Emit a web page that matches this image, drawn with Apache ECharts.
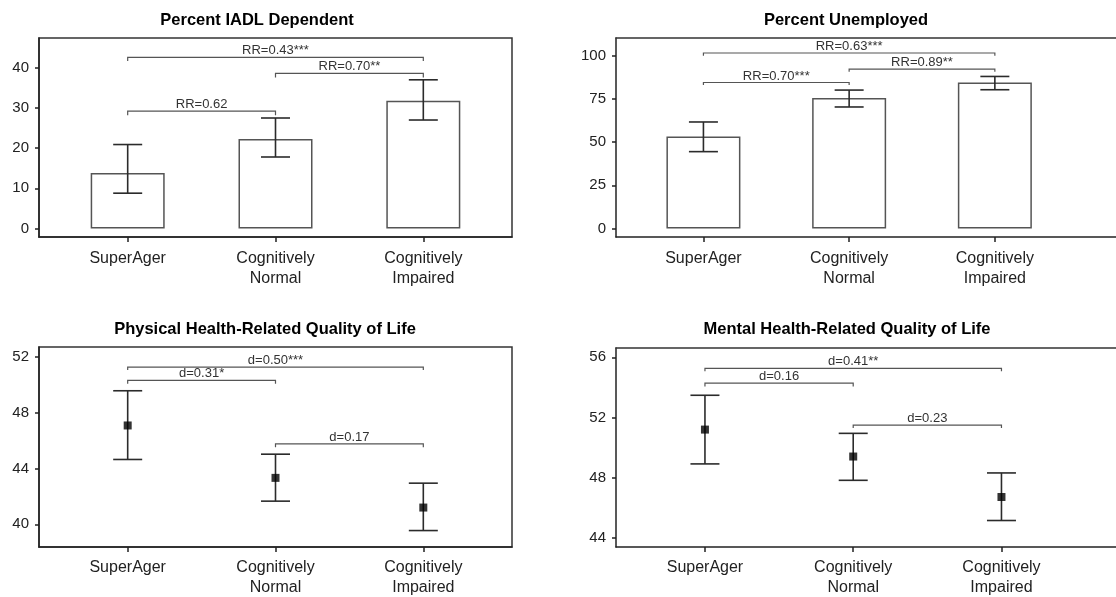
<!DOCTYPE html>
<html>
<head>
<meta charset="utf-8">
<script src="https://cdn.jsdelivr.net/npm/echarts@6/dist/echarts.min.js"></script>
<style>
  html, body { margin: 0; padding: 0; background: #fff; }
  #chart { width: 1116px; height: 597px; }
</style>
</head>
<body>
<div id="chart"></div>
<script>
// groups on the x axis (placed at 1, 2, 3)
const categories = ["SuperAger", "Cognitively\nNormal", "Cognitively\nImpaired"];
const catPos = [1, 2, 3];

// Percent IADL Dependent
const iadlValues = [13.8, 22.3, 31.8];
const iadlLow = [8.8, 17.8, 27.0];
const iadlHigh = [20.9, 27.5, 37.0];
const iadlTicks = [0, 10, 20, 30, 40];
const iadlBrackets = [[1, 3, 42.6, 41.7], [2, 3, 38.6, 37.6], [1, 2, 29.2, 28.2]];
const iadlBracketLabels = ["RR=0.43***", "RR=0.70**", "RR=0.62"];

// Percent Unemployed
const unempValues = [53.3, 75.6, 84.6];
const unempLow = [44.5, 70.4, 80.4];
const unempHigh = [61.7, 80.2, 88.1];
const unempTicks = [0, 25, 50, 75, 100];
const unempBrackets = [[1, 3, 101.7, 100.1], [2, 3, 92.4, 90.8], [1, 2, 84.6, 83.1]];
const unempBracketLabels = ["RR=0.63***", "RR=0.89**", "RR=0.70***"];

// Physical health-related QoL
const physMeans = [47.09, 43.33, 41.2];
const physLow = [44.65, 41.66, 39.55];
const physHigh = [49.58, 45.03, 42.95];
const physTicks = [40, 44, 48, 52];
const physBrackets = [[1, 3, 51.28, 51.07], [1, 2, 50.33, 50.08], [2, 3, 45.77, 45.53]];
const physBracketLabels = ["d=0.50***", "d=0.31*", "d=0.17"];

// Mental health-related QoL
const mentMeans = [51.2, 49.41, 46.72];
const mentLow = [48.92, 47.83, 45.16];
const mentHigh = [53.48, 50.95, 48.32];
const mentTicks = [44, 48, 52, 56];
const mentBrackets = [[1, 3, 55.27, 55.07], [1, 2, 54.29, 54.07], [2, 3, 51.5, 51.3]];
const mentBracketLabels = ["d=0.41**", "d=0.16", "d=0.23"];

const FONT = "'Liberation Sans', Arial, sans-serif";
const INK = "#222";

const myChart = echarts.init(document.getElementById("chart"));

// right-hand panels run off the edge of the picture, so no right border there
const grids = [
  { left: 39, top: 38, width: 473, height: 199, show: true },
  { left: 616, top: 38, width: 510, height: 199, show: false },
  { left: 39, top: 347, width: 473, height: 200, show: true },
  { left: 616, top: 348, width: 510, height: 199, show: false }
];
const xMax = [3.6, 3.9, 3.6, 3.84];
const yRange = [[-2.1, 47.4], [-5, 110.4], [38.37, 52.72], [43.4, 56.62]];
const yTicks = [iadlTicks, unempTicks, physTicks, mentTicks];
const labelMargin = [12, 12, 11, 11];

const pair = (xs, ys) => xs.map((x, i) => [x, ys[i]]);
const errData = (lo, hi) => catPos.map((x, i) => [x, lo[i], hi[i]]);

function errorSeries(idx, lo, hi) {
  return {
    type: "custom",
    xAxisIndex: idx, yAxisIndex: idx,
    z: 5,
    data: errData(lo, hi),
    renderItem: function (params, api) {
      const x = api.value(0);
      const pLo = api.coord([x, api.value(1)]);
      const pHi = api.coord([x, api.value(2)]);
      const w = 14.5;
      const style = { stroke: "#2b2b2b", lineWidth: 1.6 };
      return {
        type: "group",
        children: [
          { type: "line", shape: { x1: pLo[0], y1: pLo[1], x2: pHi[0], y2: pHi[1] }, style },
          { type: "line", shape: { x1: pLo[0] - w, y1: pLo[1], x2: pLo[0] + w, y2: pLo[1] }, style },
          { type: "line", shape: { x1: pHi[0] - w, y1: pHi[1], x2: pHi[0] + w, y2: pHi[1] }, style }
        ]
      };
    }
  };
}

function bracketSeries(idx, brackets, labels) {
  return {
    type: "custom",
    xAxisIndex: idx, yAxisIndex: idx,
    z: 4,
    data: brackets,
    renderItem: function (params, api) {
      const a = api.coord([api.value(0), api.value(2)]);
      const b = api.coord([api.value(1), api.value(2)]);
      const legA = api.coord([api.value(0), api.value(3)]);
      const style = { stroke: "#555", lineWidth: 1.2, fill: null };
      return {
        type: "group",
        children: [
          {
            type: "polyline",
            shape: { points: [[a[0], legA[1]], [a[0], a[1]], [b[0], b[1]], [b[0], legA[1]]] },
            style
          },
          {
            type: "text",
            style: {
              text: labels[params.dataIndex],
              x: (a[0] + b[0]) / 2, y: a[1] - 6.5,
              align: "center", verticalAlign: "middle",
              font: "13px " + FONT, fill: "#333"
            }
          }
        ]
      };
    }
  };
}

function barSeries(idx, values) {
  return {
    type: "bar",
    xAxisIndex: idx, yAxisIndex: idx,
    barWidth: 74,
    data: pair(catPos, values),
    itemStyle: { color: "#fff", borderColor: "#555", borderWidth: 1.5 },
    silent: true
  };
}

function pointSeries(idx, values) {
  return {
    type: "scatter",
    xAxisIndex: idx, yAxisIndex: idx,
    z: 6,
    symbol: "rect",
    symbolSize: 8,
    data: pair(catPos, values),
    itemStyle: { color: "#000" }
  };
}

const titles = [
  { text: "Percent IADL Dependent", x: 257, y: 20 },
  { text: "Percent Unemployed", x: 846, y: 20 },
  { text: "Physical Health-Related Quality of Life", x: 265, y: 329 },
  { text: "Mental Health-Related Quality of Life", x: 847, y: 329 }
];

const bottomAxes = grids.map((g, i) => ({
  type: "value",
  gridIndex: i,
  position: "bottom",
  min: 0.4, max: xMax[i],
  splitLine: { show: false },
  axisLine: { show: true, onZero: false, lineStyle: { color: INK, width: 1.5 } },
  axisTick: { show: true, customValues: catPos, length: 5, lineStyle: { color: INK, width: 1.5 } },
  axisLabel: {
    customValues: catPos,
    margin: labelMargin[i],
    fontSize: 16, lineHeight: 20, color: INK, fontFamily: FONT,
    formatter: v => categories[Math.round(v) - 1] || ""
  }
}));
// plain top border line for the open-ended right panels
const topAxes = [1, 3].map(i => ({
  type: "value",
  gridIndex: i,
  position: "top",
  min: 0.4, max: xMax[i],
  splitLine: { show: false },
  axisLine: { show: true, onZero: false, lineStyle: { color: "#333", width: 1.5 } },
  axisTick: { show: false },
  axisLabel: { show: false }
}));

myChart.setOption({
  animation: false,
  backgroundColor: "#fff",
  textStyle: { fontFamily: FONT },
  graphic: titles.map(t => ({
    type: "text",
    x: t.x, y: t.y,
    style: {
      text: t.text, align: "center", verticalAlign: "middle",
      font: "bold 16.5px " + FONT, fill: "#000"
    }
  })),
  grid: grids.map(g => ({
    left: g.left, top: g.top, width: g.width, height: g.height,
    outerBoundsMode: "none", containLabel: false,
    show: g.show, borderColor: "#333", borderWidth: 1.5, backgroundColor: "transparent"
  })),
  xAxis: bottomAxes.concat(topAxes),
  yAxis: grids.map((g, i) => ({
    type: "value",
    gridIndex: i,
    min: yRange[i][0], max: yRange[i][1],
    splitLine: { show: false },
    axisLine: { show: true, onZero: false, lineStyle: { color: INK, width: 1.5 } },
    axisTick: { show: true, customValues: yTicks[i], length: 4, lineStyle: { color: INK, width: 1.5 } },
    axisLabel: {
      customValues: yTicks[i],
      margin: 10,
      fontSize: 15, color: INK, fontFamily: FONT
    }
  })),
  series: [
    barSeries(0, iadlValues),
    errorSeries(0, iadlLow, iadlHigh),
    bracketSeries(0, iadlBrackets, iadlBracketLabels),
    barSeries(1, unempValues),
    errorSeries(1, unempLow, unempHigh),
    bracketSeries(1, unempBrackets, unempBracketLabels),
    errorSeries(2, physLow, physHigh),
    pointSeries(2, physMeans),
    bracketSeries(2, physBrackets, physBracketLabels),
    errorSeries(3, mentLow, mentHigh),
    pointSeries(3, mentMeans),
    bracketSeries(3, mentBrackets, mentBracketLabels)
  ]
});
</script>
</body>
</html>
